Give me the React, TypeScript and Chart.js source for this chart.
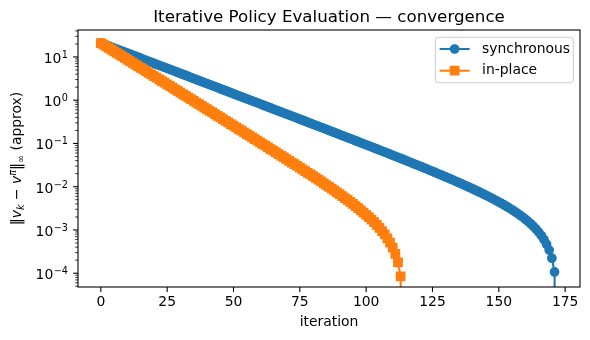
import React, { useEffect, useRef } from 'react';
import { Chart, registerables } from 'chart.js';

Chart.register(...registerables);

const TITLE = 'Iterative Policy Evaluation — convergence';
const X_LABEL = 'iteration';
const SERIES_NAMES = ['synchronous', 'in-place'];

// error per iteration, synchronous sweeps (k = 0..172)
const syncErr = [
  21.0, 19.9, 18.85, 17.86, 16.92, 16.03, 15.19, 14.39, 13.63, 12.92,
  12.24, 11.59, 10.99, 10.41, 9.86, 9.342, 8.851, 8.386, 7.945, 7.527,
  7.132, 6.756, 6.402, 6.065, 5.746, 5.444, 5.158, 4.887, 4.63, 4.386,
  4.156, 3.937, 3.73, 3.534, 3.348, 3.173, 3.006, 2.848, 2.698, 2.556,
  2.42, 2.293, 2.172, 2.058, 1.949, 1.847, 1.75, 1.658, 1.57, 1.488,
  1.4095, 1.3352, 1.265, 1.1983, 1.1352, 1.0755, 1.0189, 0.9652, 0.9143, 0.8661,
  0.8206, 0.7773, 0.7364, 0.6975, 0.6607, 0.6259, 0.5929, 0.5617, 0.532, 0.5039,
  0.4774, 0.4521, 0.4283, 0.4057, 0.3842, 0.3639, 0.3447, 0.3265, 0.3092, 0.2929,
  0.2774, 0.2627, 0.2488, 0.2356, 0.2231, 0.2113, 0.2001, 0.1895, 0.1794, 0.1699,
  0.1608, 0.1523, 0.1442, 0.1365, 0.1292, 0.1223, 0.1158, 0.1096, 0.1037, 0.09817,
  0.09291, 0.08792, 0.0832, 0.07872, 0.07448, 0.07046, 0.06666, 0.06306, 0.05964, 0.0564,
  0.05333, 0.05042, 0.04768, 0.04506, 0.04259, 0.04025, 0.03804, 0.03594, 0.03394, 0.03205,
  0.03027, 0.02857, 0.02697, 0.02545, 0.02401, 0.02265, 0.02136, 0.02013, 0.01897, 0.01787,
  0.01683, 0.01584, 0.01491, 0.01402, 0.01318, 0.01239, 0.01164, 0.01092, 0.01024, 0.009603,
  0.008996, 0.00842, 0.007877, 0.007359, 0.00687, 0.006407, 0.005969, 0.005553, 0.005159, 0.004785,
  0.004431, 0.004096, 0.003779, 0.003478, 0.003193, 0.002923, 0.002668, 0.002425, 0.002195, 0.001978,
  0.001772, 0.001576, 0.001392, 0.001216, 0.00105, 0.000892, 0.000744, 0.000602, 0.000468, 0.000342,
  0.000222, 0.000107, 0,
];

// error per iteration, in-place sweeps (k = 0..114)
const inPlaceErr = [
  21.0, 19.23, 17.61, 16.13, 14.77, 13.52, 12.39, 11.34, 10.39, 9.512,
  8.71, 7.977, 7.305, 6.689, 6.126, 5.61, 5.137, 4.705, 4.308, 3.945,
  3.613, 3.309, 3.03, 2.775, 2.541, 2.327, 2.131, 1.951, 1.787, 1.636,
  1.498, 1.371, 1.256, 1.15, 1.053, 0.9642, 0.8829, 0.8084, 0.7403, 0.6778,
  0.6207, 0.5683, 0.5203, 0.4764, 0.4362, 0.3994, 0.3657, 0.3348, 0.3065, 0.2806,
  0.2569, 0.2352, 0.2153, 0.1971, 0.1804, 0.1651, 0.1511, 0.1383, 0.1266, 0.1159,
  0.106, 0.097, 0.08875, 0.0812, 0.07429, 0.06795, 0.06214, 0.05684, 0.05197, 0.04751,
  0.04343, 0.03969, 0.03627, 0.03314, 0.03027, 0.02764, 0.02524, 0.02303, 0.02102, 0.01917,
  0.01748, 0.01592, 0.01451, 0.01321, 0.01202, 0.01093, 0.009927, 0.009014, 0.008177, 0.00741,
  0.006708, 0.006065, 0.005476, 0.004937, 0.004444, 0.003991, 0.003577, 0.003198, 0.002851, 0.002533,
  0.002242, 0.001975, 0.001731, 0.001508, 0.001303, 0.001115, 0.000943, 0.000786, 0.000642, 0.00051,
  0.00039, 0.000279, 0.000178, 0.000085, 0,
];

const xTickValues = [0, 25, 50, 75, 100, 125, 150, 175];
const yMajorExponents = [-4, -3, -2, -1, 0, 1];
const X_MIN = -8.6;
const X_MAX = 180.6;
const Y_MIN = 4.8e-5;
const Y_MAX = 42;
// log axis cannot show 0: like matplotlib's "clip", zero is drawn far below the axis
const LOG_FLOOR = 1e-11;

const BLUE = '#1f77b4';
const ORANGE = '#ff7f0e';
const FONT = '"DejaVu Sans", "Liberation Sans", sans-serif';
const FS = 13.9;
const FS_SMALL = 9.7;
const FS_TITLE = 16.7;

const MARK_R = 4.17;
const SQUARE_R = 5.9;

function drawMarker(ctx: CanvasRenderingContext2D, style: string, x: number, y: number, color: string) {
  ctx.save();
  ctx.fillStyle = color;
  ctx.strokeStyle = color;
  ctx.lineWidth = 1.4;
  ctx.beginPath();
  if (style === 'circle') {
    ctx.arc(x, y, MARK_R, 0, Math.PI * 2);
  } else {
    const s = SQUARE_R * Math.SQRT1_2;
    ctx.rect(x - s, y - s, 2 * s, 2 * s);
  }
  ctx.fill();
  ctx.stroke();
  ctx.restore();
}

const decorPlugin = {
  id: 'decor',
  afterDraw(chart: any) {
    const ctx: CanvasRenderingContext2D = chart.ctx;
    const { left, right, top, bottom } = chart.chartArea;
    const xs = chart.scales.x;
    const ys = chart.scales.y;
    ctx.save();

    // frame
    ctx.strokeStyle = '#000';
    ctx.lineWidth = 1.1;
    ctx.strokeRect(left, top, right - left, bottom - top);

    // x tick marks
    xTickValues.forEach((v) => {
      const px = xs.getPixelForValue(v);
      ctx.beginPath();
      ctx.moveTo(px, bottom);
      ctx.lineTo(px, bottom + 4.9);
      ctx.stroke();
    });

    // y tick marks (major + minor)
    for (let e = -6; e <= 2; e++) {
      for (let m = 1; m <= 9; m++) {
        const v = m * Math.pow(10, e);
        if (v < ys.min || v > ys.max) continue;
        const py = ys.getPixelForValue(v);
        ctx.lineWidth = m === 1 ? 1.1 : 0.8;
        ctx.beginPath();
        ctx.moveTo(left, py);
        ctx.lineTo(left - (m === 1 ? 4.9 : 2.8), py);
        ctx.stroke();
      }
    }

    // y tick labels 10^e
    ctx.fillStyle = '#000';
    ctx.textBaseline = 'alphabetic';
    yMajorExponents.forEach((e) => {
      const py = ys.getPixelForValue(Math.pow(10, e));
      const expText = e < 0 ? '\u2212' + Math.abs(e) : String(e);
      const xr = left - 10;
      ctx.font = `${FS_SMALL}px ${FONT}`;
      const ew = ctx.measureText(expText).width;
      ctx.textAlign = 'right';
      ctx.fillText(expText, xr, py + 1);
      ctx.font = `${FS}px ${FONT}`;
      ctx.fillText('10', xr - ew - 0.5, py + 6);
    });

    // x label
    ctx.font = `${FS}px ${FONT}`;
    ctx.textAlign = 'center';
    ctx.fillText(X_LABEL, (left + right) / 2, 326);

    // title
    ctx.font = `${FS_TITLE}px ${FONT}`;
    ctx.fillText(TITLE, (left + right) / 2, 22);

    // y label with math
    const segs = [
      { t: '\u2016', it: false, s: FS, dy: 0 },
      { t: 'v', it: true, s: FS, dy: 0 },
      { t: 'k', it: true, s: FS_SMALL, dy: 2.9 },
      { t: ' \u2212 ', it: false, s: FS, dy: 0 },
      { t: 'v', it: true, s: FS, dy: 0 },
      { t: '\u03c0', it: true, s: FS_SMALL, dy: -5.5 },
      { t: '\u2016', it: false, s: FS, dy: 0 },
      { t: '\u221e', it: false, s: FS_SMALL, dy: 2.9 },
      { t: ' (approx)', it: false, s: FS, dy: 0 },
    ];
    let total = 0;
    const widths = segs.map((sg) => {
      ctx.font = `${sg.it ? 'italic ' : ''}${sg.s}px ${FONT}`;
      const w = ctx.measureText(sg.t).width;
      total += w;
      return w;
    });
    ctx.save();
    ctx.translate(21, (top + bottom) / 2);
    ctx.rotate(-Math.PI / 2);
    ctx.textAlign = 'left';
    let cx = -total / 2;
    segs.forEach((sg, i) => {
      ctx.font = `${sg.it ? 'italic ' : ''}${sg.s}px ${FONT}`;
      ctx.fillText(sg.t, cx, sg.dy);
      cx += widths[i];
    });
    ctx.restore();

    // legend
    ctx.font = `${FS}px ${FONT}`;
    const textW = Math.max(...SERIES_NAMES.map((n) => ctx.measureText(n).width));
    const boxR = right - 6.7;
    const boxT = top + 7.3;
    const boxW = 4.3 + 30 + 12.4 + textW + 3.3;
    const boxH = 45.4;
    const boxL = boxR - boxW;
    ctx.beginPath();
    if ((ctx as any).roundRect) (ctx as any).roundRect(boxL, boxT, boxW, boxH, 2.8);
    else ctx.rect(boxL, boxT, boxW, boxH);
    ctx.fillStyle = 'rgba(255,255,255,0.8)';
    ctx.fill();
    ctx.strokeStyle = '#cccccc';
    ctx.lineWidth = 1;
    ctx.stroke();
    const rows = [
      { name: SERIES_NAMES[0], color: BLUE, style: 'circle', y: boxT + 11.7 },
      { name: SERIES_NAMES[1], color: ORANGE, style: 'rect', y: boxT + 33.4 },
    ];
    rows.forEach((r) => {
      const hx = boxL + 4.3;
      ctx.strokeStyle = r.color;
      ctx.lineWidth = 2.08;
      ctx.beginPath();
      ctx.moveTo(hx, r.y);
      ctx.lineTo(hx + 30, r.y);
      ctx.stroke();
      drawMarker(ctx, r.style, hx + 15, r.y, r.color);
      ctx.fillStyle = '#000';
      ctx.font = `${FS}px ${FONT}`;
      ctx.textAlign = 'left';
      ctx.textBaseline = 'middle';
      ctx.fillText(r.name, hx + 30 + 12.4, r.y);
    });

    ctx.restore();
  },
};

export default function App() {
  const ref = useRef<HTMLCanvasElement | null>(null);

  useEffect(() => {
    document.body.style.margin = '0';
    const canvas = ref.current;
    if (!canvas) return;
    const toPoints = (arr: number[]) => arr.map((v, i) => ({ x: i, y: v > 0 ? v : LOG_FLOOR }));
    const radius = (arr: number[], r: number) => (c: any) => (arr[c.dataIndex] > 0 ? r : 0);
    const chart = new Chart(canvas, {
      type: 'line',
      data: {
        datasets: [
          {
            label: SERIES_NAMES[0],
            data: toPoints(syncErr),
            borderColor: BLUE,
            backgroundColor: BLUE,
            pointBackgroundColor: BLUE,
            pointBorderColor: BLUE,
            borderWidth: 2.08,
            pointStyle: 'circle',
            pointRadius: radius(syncErr, MARK_R),
            pointBorderWidth: 1.4,
            tension: 0,
            clip: 0,
            order: 2,
          },
          {
            label: SERIES_NAMES[1],
            data: toPoints(inPlaceErr),
            borderColor: ORANGE,
            backgroundColor: ORANGE,
            pointBackgroundColor: ORANGE,
            pointBorderColor: ORANGE,
            borderWidth: 2.08,
            pointStyle: 'rect',
            pointRadius: radius(inPlaceErr, SQUARE_R),
            pointBorderWidth: 1.4,
            tension: 0,
            clip: 0,
            order: 1,
          },
        ],
      },
      options: {
        animation: false,
        responsive: false,
        devicePixelRatio: 1,
        events: [],
        layout: { padding: { left: 0, right: 10, top: 30, bottom: 0 } },
        plugins: {
          legend: { display: false },
          title: { display: false },
          tooltip: { enabled: false },
        },
        scales: {
          x: {
            type: 'linear',
            min: X_MIN,
            max: X_MAX,
            bounds: 'data',
            grid: { display: false, drawTicks: false },
            border: { display: false },
            ticks: {
              padding: 7.5,
              color: '#000',
              font: { family: FONT, size: FS },
              maxRotation: 0,
              autoSkip: false,
            },
            afterBuildTicks: (scale: any) => {
              scale.ticks = xTickValues.map((v) => ({ value: v }));
            },
            afterFit: (scale: any) => {
              scale.height = 53;
            },
          },
          y: {
            type: 'logarithmic',
            min: Y_MIN,
            max: Y_MAX,
            bounds: 'data',
            grid: { display: false, drawTicks: false },
            border: { display: false },
            ticks: { display: false },
            afterFit: (scale: any) => {
              scale.width = 78;
            },
          },
        },
      },
      plugins: [decorPlugin],
    } as any);
    return () => chart.destroy();
  }, []);

  return (
    <div style={{ width: 590, height: 340 }}>
      <canvas ref={ref} width={590} height={340} style={{ display: 'block' }} />
    </div>
  );
}
